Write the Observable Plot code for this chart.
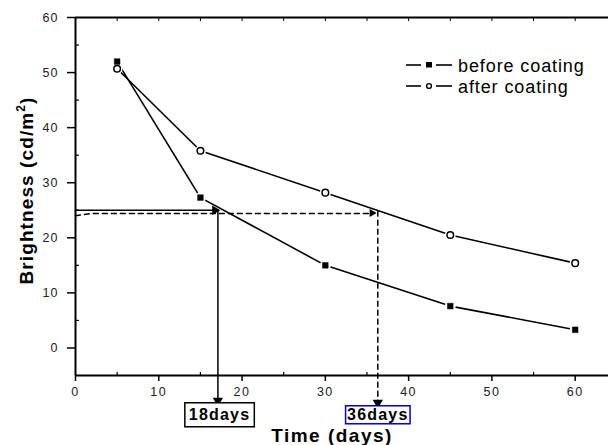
<!DOCTYPE html>
<html><head><meta charset="utf-8">
<script src="https://cdn.jsdelivr.net/npm/d3@7"></script>
<script src="https://cdn.jsdelivr.net/npm/@observablehq/plot@0.6"></script>
<style>
html,body{margin:0;padding:0;background:#fff}
#chart{position:relative;width:608px;height:445px;font-family:"Liberation Sans",Arial,sans-serif}
#legend{position:absolute;left:0;top:0;pointer-events:none}
</style></head><body><div id="chart"></div>
<script>
// ---- data ----
const days = [5, 15, 30, 45, 60];
const beforeCoating = [52, 27.3, 15, 7.6, 3.3];
const afterCoating = [50.7, 35.8, 28.2, 20.5, 15.4];
const seriesNames = ["before coating", "after coating"];
const xDomain = [0, 64];
const yDomain = [-5, 60];
const xTicks = [0, 10, 20, 30, 40, 50, 60];
const yTicks = [0, 10, 20, 30, 40, 50, 60];
const xMinor = [5, 15, 25, 35, 45, 55];
const yMinor = [5, 15, 25, 35, 45, 55];
const topTicks = [5, 10, 15, 20, 25, 30, 35, 40, 45, 50, 55, 60];
const solidLevel = [[0, 25], [17.1, 25]];
const solidDrop = [[17.1, 25], [17.1, -10.1]];
const dashedLevel = [[0, 24.0], [1.8, 24.4], [35.6, 24.4]];
const dashedDrop = [[36.3, 24.8], [36.3, -10.5]];
const dayLabelText = ["18days", "36days"];
const dayLabelX = [17.3, 36.3];
const dayLabelY = [-12.2, -12.2];
const xTitle = "Time (days)";
const yTitleMain = "Brightness (cd/m";
const yTitleSup = "2";
const yTitleEnd = ")";

const before = days.map((d, i) => ({x: d, y: beforeCoating[i]}));
const after = days.map((d, i) => ({x: d, y: afterCoating[i]}));
const all = before.concat(after);
const dayLabels = dayLabelText.map((t, i) => ({t, x: dayLabelX[i], y: dayLabelY[i]}));
const boxStyle = {"18days": {stroke: "#000", px: 4, py: 3.5}, "36days": {stroke: "#0000cc", px: 1.5, py: 0.5}};

const plot = Plot.plot({
  width: 608, height: 445,
  marginLeft: 75, marginTop: 17, marginRight: 0, marginBottom: 70,
  x: {domain: xDomain},
  y: {domain: yDomain},
  style: {fontFamily: "Liberation Sans, Arial, sans-serif", background: "white", color: "#000", overflow: "visible"},
  marks: [
    // axes
    Plot.axisY({ticks: yTicks, tickSize: 8, tickPadding: 9, fontSize: 12.5, label: null, strokeWidth: 1.5, fill: "#222"}),
    Plot.axisY({ticks: yMinor, tickSize: 4, dx: 4, fill: "none", label: null, strokeWidth: 1.2}),
    Plot.axisX({ticks: xTicks, tickSize: 6, tickPadding: 6, fontSize: 12.5, label: null, strokeWidth: 1.5, fill: "#222"}),
    Plot.axisX({ticks: xMinor, tickSize: 3, dy: -3, fill: "none", label: null, strokeWidth: 1.2}),
    Plot.axisX({anchor: "top", ticks: topTicks, tickSize: 3, dy: 3, fill: "none", label: null, strokeWidth: 1}),
    Plot.ruleY([yDomain[0], yDomain[1]], {strokeWidth: 2}),
    Plot.ruleX([xDomain[0]], {strokeWidth: 2}),
    // series lines
    Plot.line(before, {x: "x", y: "y", strokeWidth: 1.6}),
    Plot.line(after, {x: "x", y: "y", strokeWidth: 1.6}),
    Plot.dot(all, {x: "x", y: "y", r: 5.5, fill: "white", stroke: "none"}),
    Plot.dot(before, {x: "x", y: "y", symbol: "square", r: 3.2, fill: "#000", stroke: "#000", strokeWidth: 0.5}),
    Plot.dot(after, {x: "x", y: "y", symbol: "circle", r: 3.3, fill: "white", stroke: "#000", strokeWidth: 1.5}),
    // annotations
    Plot.line(solidLevel, {x: d => d[0], y: d => d[1], strokeWidth: 1.5}),
    Plot.line(solidDrop, {x: d => d[0], y: d => d[1], strokeWidth: 1.5}),
    Plot.line(dashedLevel, {x: d => d[0], y: d => d[1], strokeWidth: 1.5, strokeDasharray: "5,4"}),
    Plot.line(dashedDrop, {x: d => d[0], y: d => d[1], strokeWidth: 1.5, strokeDasharray: "5,4"}),
    Plot.dot([solidLevel[1]], {x: d => d[0], y: d => d[1], symbol: "triangle", r: 3.5, rotate: 90, dx: -3, fill: "#000", stroke: "none"}),
    Plot.dot([solidDrop[1]], {x: d => d[0], y: d => d[1], symbol: "triangle", r: 3.8, rotate: 180, dy: -3, fill: "#000", stroke: "none"}),
    Plot.dot([dashedLevel[2]], {x: d => d[0], y: d => d[1], symbol: "triangle", r: 3, rotate: 90, dx: 0, dy: -0.5, fill: "#000", stroke: "none"}),
    Plot.dot([dashedDrop[1]], {x: d => d[0], y: d => d[1], symbol: "triangle", r: 3.8, rotate: 180, dy: -3, fill: "#000", stroke: "none"}),
    Plot.text(dayLabels, {x: "x", y: "y", text: "t", fontSize: 16, fontWeight: "bold", fill: "#000"}),
    // titles
    Plot.text([xTitle], {frameAnchor: "bottom", textAnchor: "middle", lineAnchor: "middle", dx: -10, dy: 60, fontSize: 19, fontWeight: "bold", fill: "#000"}),
    Plot.text([yTitleMain], {frameAnchor: "left", textAnchor: "middle", lineAnchor: "middle", dx: -49, dy: -6, rotate: -90, fontSize: 19, fontWeight: "bold", fill: "#000"})
  ]
});
const chart = document.getElementById("chart");
chart.appendChild(plot);

const ns = "http://www.w3.org/2000/svg";
plot.querySelectorAll("text").forEach(t => {
  const txt = t.textContent;
  const g = t.closest("g[aria-label]");
  const lab = g ? g.getAttribute("aria-label") : "";
  if (lab.indexOf("x-axis tick label") >= 0) t.setAttribute("letter-spacing", "1.5");
  else if (lab.indexOf("y-axis tick label") >= 0) t.setAttribute("letter-spacing", "1");
  if (txt === xTitle) t.setAttribute("letter-spacing", "1.5");
  if (txt === yTitleMain) {
    t.setAttribute("letter-spacing", "1.1");
    const s = document.createElementNS(ns, "tspan");
    s.setAttribute("dy", "-8"); s.setAttribute("font-size", "12"); s.textContent = yTitleSup;
    const e = document.createElementNS(ns, "tspan");
    e.setAttribute("dy", "8"); e.textContent = yTitleEnd;
    t.appendChild(s); t.appendChild(e);
  }
  if (dayLabelText.includes(txt)) {
    t.setAttribute("letter-spacing", "1.2");
    const b = t.getBBox();
    const st = boxStyle[txt];
    const r = document.createElementNS(ns, "rect");
    r.setAttribute("x", b.x - st.px); r.setAttribute("y", b.y - st.py);
    r.setAttribute("width", b.width + 2 * st.px); r.setAttribute("height", b.height + 2 * st.py);
    r.setAttribute("fill", "white"); r.setAttribute("stroke", st.stroke); r.setAttribute("stroke-width", 1.5);
    const tr = t.getAttribute("transform");
    if (tr) r.setAttribute("transform", tr);
    t.parentNode.insertBefore(r, t);
  }
});

// legend
const lg = document.createElementNS(ns, "svg");
lg.setAttribute("id", "legend"); lg.setAttribute("width", 608); lg.setAttribute("height", 445);
const rows = [{name: seriesNames[0], sym: "square", y: 65}, {name: seriesNames[1], sym: "circle", y: 86}];
rows.forEach(rw => {
  const g = document.createElementNS(ns, "g");
  g.innerHTML =
    `<line x1="406" x2="421" y1="${rw.y}" y2="${rw.y}" stroke="#000" stroke-width="1.6"/>` +
    `<line x1="436" x2="452" y1="${rw.y}" y2="${rw.y}" stroke="#000" stroke-width="1.6"/>` +
    (rw.sym === "square"
      ? `<rect x="426" y="${rw.y - 3}" width="6" height="5.5" fill="#000"/>`
      : `<circle cx="429" cy="${rw.y}" r="2.4" fill="white" stroke="#000" stroke-width="1.4"/>`) +
    `<text x="458" y="${rw.y + 6.5}" font-size="18" letter-spacing="0.9" font-family="Liberation Sans, Arial, sans-serif" fill="#000">${rw.name}</text>`;
  lg.appendChild(g);
});
chart.appendChild(lg);
</script>
</body></html>
